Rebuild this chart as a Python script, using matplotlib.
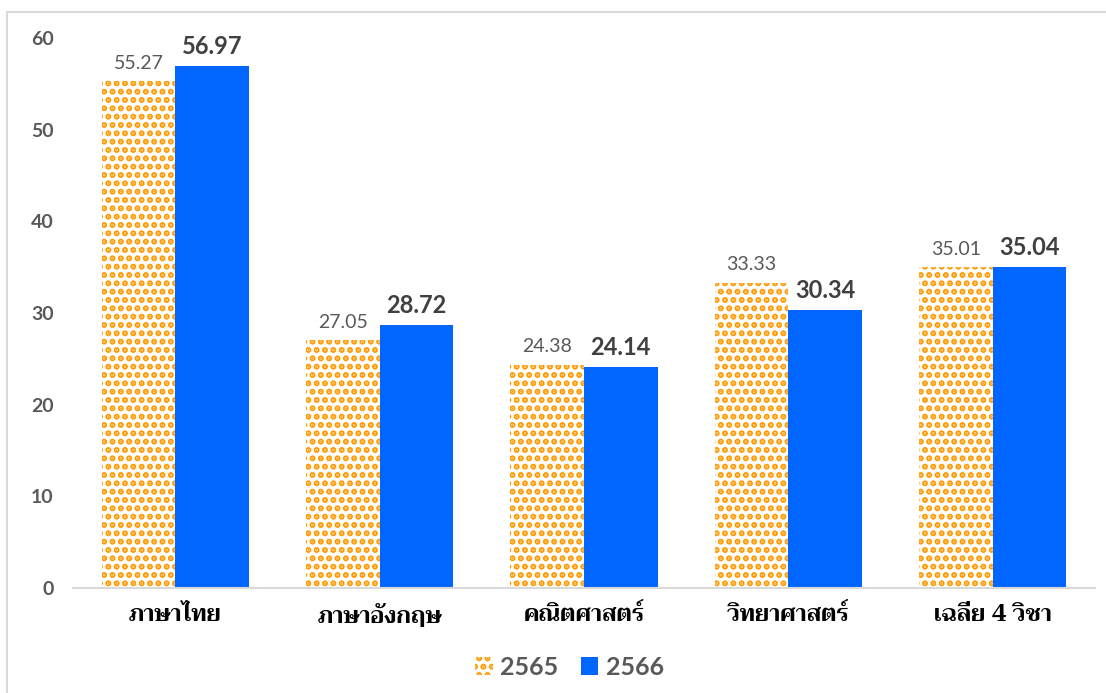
#!/usr/bin/env python3
"""O-NET average scores by subject, 2565 vs 2566."""

import matplotlib

matplotlib.use("Agg")

import matplotlib.pyplot as plt
import numpy as np
from matplotlib import font_manager
from matplotlib.ft2font import FT2Font
from matplotlib.patches import Rectangle

SUBJECTS = ["ภาษาไทย", "ภาษาอังกฤษ", "คณิตศาสตร์", "วิทยาศาสตร์", "เฉลี่ย 4 วิชา"]
SCORES_2565 = [55.27, 27.05, 24.38, 33.33, 35.01]
SCORES_2566 = [56.97, 28.72, 24.14, 30.34, 35.04]
YEARS = ["2565", "2566"]
Y_TICKS = [0, 10, 20, 30, 40, 50, 60]

ORANGE = "#FF9900"
BLUE = "#0066FF"
GREY = "#595959"


def find_thai_font():
    best = None
    for entry in font_manager.fontManager.ttflist:
        try:
            cmap = FT2Font(entry.fname).get_charmap()
        except Exception:
            continue
        if ord("ภ") in cmap and ord("ษ") in cmap:
            if best is None or entry.weight in ("bold", 700):
                best = entry.name
    return best


thai = find_thai_font()
num_family = ["Lato", "DejaVu Sans"]
thai_family = ([thai] if thai else []) + ["DejaVu Sans"]

fig = plt.figure(figsize=(11.06, 6.93), dpi=100)
ax = fig.add_axes([0.066, 0.1515, 0.924, 0.7935])

x = np.arange(len(SUBJECTS))
width = 0.36
plt.rcParams["hatch.linewidth"] = 3.0
plt.rcParams["hatch.color"] = ORANGE

b1 = ax.bar(x - width / 2, SCORES_2565, width, color="white", edgecolor=ORANGE,
            hatch="..", linewidth=0, label=YEARS[0])
b2 = ax.bar(x + width / 2, SCORES_2566, width, color=BLUE, linewidth=0, label=YEARS[1])

for rect, v in zip(b1, SCORES_2565):
    ax.text(rect.get_x() + rect.get_width() / 2, v + 1.0, f"{v:.2f}", ha="center",
            va="bottom", fontsize=14, color=GREY, family=num_family)
for rect, v in zip(b2, SCORES_2566):
    ax.text(rect.get_x() + rect.get_width() / 2, v + 0.9, f"{v:.2f}", ha="center",
            va="bottom", fontsize=17, fontweight="bold", color="#404040", family=num_family)

ax.set_xlim(-0.5, len(SUBJECTS) - 0.5)
ax.set_ylim(0, 60)
ax.set_yticks(Y_TICKS)
ax.set_yticklabels([str(t) for t in Y_TICKS], fontsize=14, fontweight="bold",
                   color=GREY, family=num_family)
ax.set_xticks(x)
ax.set_xticklabels(SUBJECTS, fontsize=17, fontweight="bold", color="black",
                   family=thai_family)
ax.tick_params(axis="both", length=0)
ax.tick_params(axis="y", pad=14)
ax.tick_params(axis="x", pad=12)
for side in ("top", "right", "left"):
    ax.spines[side].set_visible(False)
ax.spines["bottom"].set_color("#D9D9D9")
ax.spines["bottom"].set_linewidth(1.5)

leg = fig.legend(handles=[b1, b2], labels=YEARS, loc="center", bbox_to_anchor=(0.515, 0.037),
                 ncol=2, frameon=False, handlelength=0.7, handleheight=0.7,
                 handletextpad=0.3, columnspacing=0.9, fontsize=18)
for t in leg.get_texts():
    t.set_color(GREY)
    t.set_fontproperties(font_manager.FontProperties(family=num_family, size=18, weight="bold"))

fig.patches.append(Rectangle((7 / 1106, -0.1), 1.2, 1 - 12 / 693 + 0.1,
                             transform=fig.transFigure, fill=False,
                             edgecolor="#D9D9D9", linewidth=1.5))

fig.savefig("out.png", dpi=100)
